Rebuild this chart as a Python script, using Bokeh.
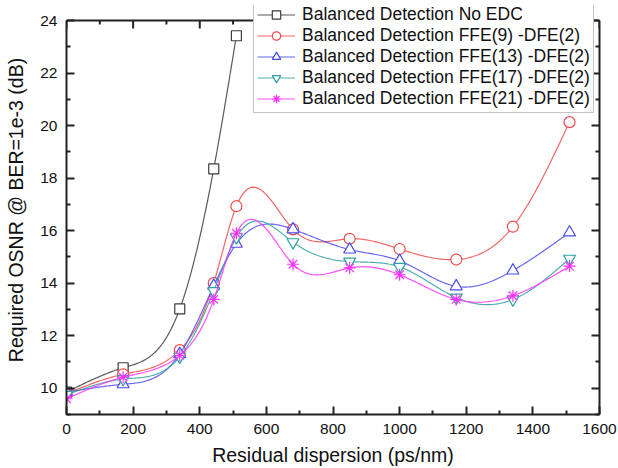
import numpy as np
from bokeh.plotting import figure
from bokeh.models import LinearAxis, Legend, LegendItem, FixedTicker, Range1d, Span
from bokeh.embed import file_html
from bokeh.resources import INLINE

# ---- data ----
x_noedc = [0, 170, 340, 442, 510]
y_noedc = [9.85, 10.78, 13.02, 18.35, 23.42]

x_eq = [0, 170, 340, 442, 510, 680, 850, 1000, 1170, 1340, 1510]
y_ffe9 = [9.80, 10.53, 11.45, 14.00, 16.93, 16.05, 15.69, 15.30, 14.90, 16.15, 20.13]
y_ffe13 = [9.85, 10.15, 11.30, 13.90, 15.50, 16.05, 15.28, 14.85, 13.88, 14.48, 15.93]
y_ffe17 = [9.75, 10.35, 11.20, 13.70, 15.75, 15.56, 14.82, 14.62, 13.45, 13.38, 14.93]
y_ffe21 = [9.60, 10.42, 11.25, 13.38, 15.90, 14.72, 14.58, 14.32, 13.38, 13.52, 14.65]

labels = ["Balanced Detection No EDC",
          "Balanced Detection FFE(9) -DFE(2)",
          "Balanced Detection FFE(13) -DFE(2)",
          "Balanced Detection FFE(17) -DFE(2)",
          "Balanced Detection FFE(21) -DFE(2)"]

x_ticks = [0, 200, 400, 600, 800, 1000, 1200, 1400, 1600]
x_minor = [100, 300, 500, 700, 900, 1100, 1300, 1500]
y_ticks = [10, 12, 14, 16, 18, 20, 22, 24]
y_minor = [9, 11, 13, 15, 17, 19, 21, 23]
y_min, y_max = 9, 24


def natural_spline(xs, ys, n=40):
    """Smooth connecting curve through the data points (Origin 'spline' style)."""
    x = np.asarray(xs, float)
    y = np.asarray(ys, float)
    m = len(x)
    h = np.diff(x)
    A = np.zeros((m, m))
    b = np.zeros(m)
    A[0, 0] = 1.0
    A[-1, -1] = 1.0
    for i in range(1, m - 1):
        A[i, i - 1] = h[i - 1]
        A[i, i] = 2 * (h[i - 1] + h[i])
        A[i, i + 1] = h[i]
        b[i] = 6 * ((y[i + 1] - y[i]) / h[i] - (y[i] - y[i - 1]) / h[i - 1])
    M = np.linalg.solve(A, b)
    xo, yo = [], []
    for i in range(m - 1):
        t = np.linspace(x[i], x[i + 1], n, endpoint=(i == m - 2))
        a = x[i + 1] - t
        c = t - x[i]
        s = (M[i] * a ** 3 + M[i + 1] * c ** 3) / (6 * h[i]) \
            + (y[i] / h[i] - M[i] * h[i] / 6) * a \
            + (y[i + 1] / h[i] - M[i + 1] * h[i] / 6) * c
        xo.extend(t.tolist())
        yo.extend(s.tolist())
    return xo, yo


FONT = "Liberation Sans"
AX = "#222222"

# The plotting frame reaches 15px above the y=24 line so that the legend,
# which pokes above the box in the original, is not clipped.
FRAME_H = 409
EXTRA_PX = 15
ppu = (FRAME_H - EXTRA_PX) / (y_max - y_min)

p = figure(frame_width=533, frame_height=FRAME_H,
           x_range=Range1d(0, 1600),
           y_range=Range1d(y_min, y_max + EXTRA_PX / ppu),
           output_backend="svg", toolbar_location=None,
           min_border_left=66, min_border_right=19,
           min_border_top=5, min_border_bottom=54,
           background_fill_color="white", border_fill_color="white")
p.xgrid.visible = False
p.ygrid.visible = False
p.outline_line_color = None


def style_axis(ax, ticks, minor, show_labels=True):
    ax.ticker = FixedTicker(ticks=ticks, minor_ticks=minor)
    ax.axis_line_color = AX
    ax.axis_line_width = 2
    ax.major_tick_line_color = AX
    ax.major_tick_line_width = 2
    ax.minor_tick_line_color = AX
    ax.minor_tick_line_width = 2
    ax.major_tick_in = 8
    ax.major_tick_out = 0
    ax.minor_tick_in = 4
    ax.minor_tick_out = 0
    ax.major_label_text_font = FONT
    ax.major_label_text_font_size = "15.5px"
    ax.major_label_text_color = "#111111"
    ax.axis_label_text_font = FONT
    ax.axis_label_text_font_size = "19.5px"
    ax.axis_label_text_font_style = "normal"
    ax.axis_label_text_color = "#111111"
    if not show_labels:
        ax.major_label_text_font_size = "1px"
        ax.major_label_text_color = None
        ax.major_label_standoff = 0


style_axis(p.xaxis[0], x_ticks, x_minor)
style_axis(p.yaxis[0], y_ticks, y_minor)
p.yaxis[0].bounds = (y_min, y_max)
p.xaxis[0].axis_label = "Residual dispersion (ps/nm)"
p.yaxis[0].axis_label = "Required OSNR @ BER=1e-3 (dB)"
p.xaxis[0].major_label_standoff = 9
p.xaxis[0].axis_label_standoff = 7
p.yaxis[0].major_label_standoff = 9
p.yaxis[0].axis_label_standoff = 10

right_ax = LinearAxis()
style_axis(right_ax, y_ticks, y_minor, show_labels=False)
right_ax.bounds = (y_min, y_max)
p.add_layout(right_ax, "right")

# top edge of the box at y = 24 with inward ticks
p.add_layout(Span(location=y_max, dimension="width", line_color=AX, line_width=2))
p.ray(x=x_ticks, y=[y_max] * len(x_ticks), length=8, length_units="screen",
      angle=-np.pi / 2, line_color=AX, line_width=2)
p.ray(x=x_minor, y=[y_max] * len(x_minor), length=4, length_units="screen",
      angle=-np.pi / 2, line_color=AX, line_width=2)

series = [
    (x_noedc, y_noedc, "#3c3c3c", "square", 10),
    (x_eq, y_ffe9, "#f04a4a", "circle", 11),
    (x_eq, y_ffe13, "#4a4af0", "triangle", 12),
    (x_eq, y_ffe17, "#30a0a0", "inverted_triangle", 12),
    (x_eq, y_ffe21, "#ff30ff", "asterisk", 12),
]

items = []
for (xs, ys, col, mk, sz), lab in zip(series, labels):
    sx, sy = natural_spline(xs, ys)
    lr = p.line(sx, sy, line_color=col, line_width=1.2, line_alpha=0.85)
    sr = p.scatter(xs, ys, marker=mk, size=sz, line_color=col, line_width=1.2,
                   fill_color="white", fill_alpha=0.0 if mk == "asterisk" else 1.0)
    items.append(LegendItem(label=lab, renderers=[lr, sr]))

legend = Legend(items=items, location=(187, 301),
                label_text_font=FONT, label_text_font_size="17.5px",
                label_text_color="#111111",
                glyph_width=38, glyph_height=21, label_height=21,
                label_standoff=7, spacing=0, padding=3, margin=0,
                border_line_color="#888888", border_line_width=1,
                background_fill_color="white", background_fill_alpha=1.0)
p.add_layout(legend, "center")

open("out.html", "w").write(file_html(p, INLINE))
